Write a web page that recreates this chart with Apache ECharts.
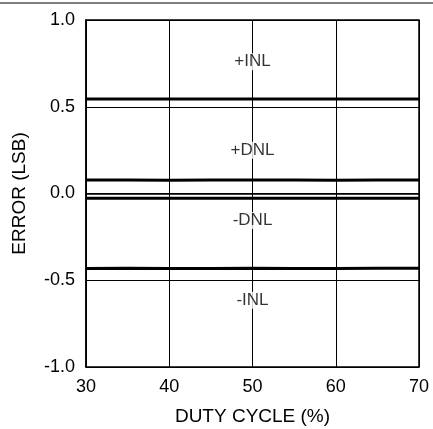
<!DOCTYPE html>
<html><head><meta charset="utf-8">
<script src="https://cdn.jsdelivr.net/npm/echarts@6/dist/echarts.min.js"></script>
<style>html,body{margin:0;padding:0;background:#fff}#c{width:433px;height:429px}</style>
</head><body><div id="c"></div>
<script>
var duty = [30, 35, 40, 45, 50, 55, 60, 65, 70];
var posINL = [0.545, 0.544, 0.545, 0.544, 0.545, 0.545, 0.544, 0.545, 0.545];
var posDNL = [0.078, 0.078, 0.077, 0.078, 0.078, 0.078, 0.077, 0.078, 0.078];
var negDNL = [-0.027, -0.027, -0.028, -0.027, -0.027, -0.027, -0.028, -0.027, -0.027];
var negINL = [-0.432, -0.431, -0.432, -0.432, -0.431, -0.432, -0.432, -0.431, -0.431];
var labelNames = ['+INL', '+DNL', '-DNL', '-INL'];
var labelX = [50, 50, 50, 50];
var labelY = [0.76, 0.25, -0.155, -0.615];
var xTicks = [30, 40, 50, 60, 70];
var yTicks = [-1.0, -0.5, 0.0, 0.5, 1.0];

function pairs(xs, ys){ return xs.map(function(x,i){ return [x, ys[i]]; }); }
var font = 'Liberation Sans, Arial, sans-serif';
var lineStyle = {color:'#000', width:3};
var chart = echarts.init(document.getElementById('c'));
chart.setOption({
  animation:false,
  backgroundColor:'#fff',
  grid:{left:86, right:14, top:20, bottom:62, show:false, containLabel:false, outerBoundsMode:'none'},
  xAxis:{type:'value', min:30, max:70, interval:10,
    name:'DUTY CYCLE (%)', nameLocation:'middle', nameGap:40,
    nameTextStyle:{fontFamily:font, fontSize:19, color:'#000'},
    axisLine:{show:true, lineStyle:{color:'#000', width:1.5}},
    axisTick:{show:false},
    axisLabel:{fontFamily:font, fontSize:18, color:'#000', margin:11,
      formatter:function(v){ return xTicks.indexOf(v)>=0 ? String(v) : ''; }},
    splitLine:{show:true, lineStyle:{color:'#000', width:1}}
  },
  yAxis:{type:'value', min:-1, max:1, interval:0.5,
    name:'ERROR (LSB)', nameLocation:'middle', nameGap:57, nameRotate:90,
    nameTextStyle:{fontFamily:font, fontSize:19, color:'#000'},
    axisLine:{show:true, lineStyle:{color:'#000', width:1.5}},
    axisTick:{show:false},
    axisLabel:{fontFamily:font, fontSize:18, color:'#000', margin:11,
      formatter:function(v){ return v.toFixed(1); }},
    splitLine:{show:true, lineStyle:{color:'#000', width:1}}
  },
  graphic:[
    {type:'line', shape:{x1:0, y1:3, x2:433, y2:3}, style:{stroke:'#000', lineWidth:1}},
    {type:'rect', shape:{x:86, y:20, width:333, height:347}, style:{fill:'none', stroke:'#000', lineWidth:1.5}, z:100}
  ],
  series:[
    {type:'line', data:pairs(duty,posINL), symbol:'none', lineStyle:lineStyle},
    {type:'line', data:pairs(duty,posDNL), symbol:'none', lineStyle:lineStyle},
    {type:'line', data:pairs(duty,negDNL), symbol:'none', lineStyle:lineStyle},
    {type:'line', data:pairs(duty,negINL), symbol:'none', lineStyle:lineStyle},
    {type:'scatter', symbolSize:0, silent:true, z:10,
      data:labelNames.map(function(n,i){ return {value:[labelX[i], labelY[i]], name:n}; }),
      label:{show:true, position:'inside', formatter:'{b}', fontFamily:font, fontSize:17, color:'#000',
        backgroundColor:'#fff', padding:[0,1]}
    }
  ]
});
</script></body></html>
